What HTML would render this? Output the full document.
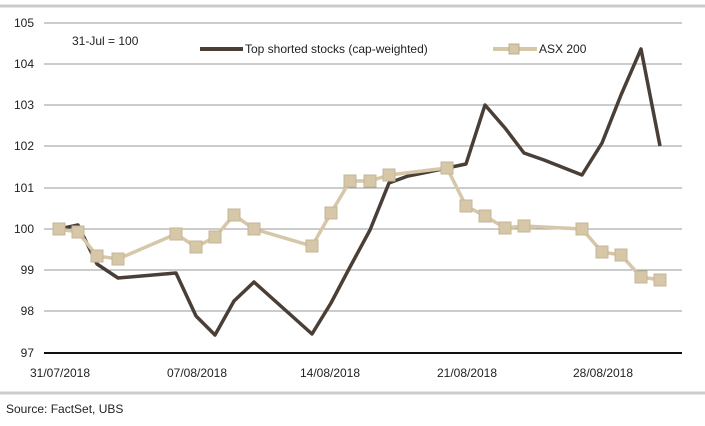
<!DOCTYPE html>
<html><head><style>
body{margin:0;width:705px;height:421px;background:#fff;overflow:hidden}
text{font-family:"Liberation Sans",sans-serif;fill:#222}
</style></head><body>
<svg width="705" height="421" xmlns="http://www.w3.org/2000/svg">
<line x1="0" y1="6" x2="705" y2="6" stroke="#ccc" stroke-width="3"/>
<line x1="0" y1="393" x2="705" y2="393" stroke="#ccc" stroke-width="3"/>
<g stroke="#999" stroke-width="1">
<line x1="44" y1="23" x2="682" y2="23"/><line x1="44" y1="64" x2="682" y2="64"/>
<line x1="44" y1="105" x2="682" y2="105"/><line x1="44" y1="146" x2="682" y2="146"/>
<line x1="44" y1="188" x2="682" y2="188"/><line x1="44" y1="229" x2="682" y2="229"/>
<line x1="44" y1="270" x2="682" y2="270"/><line x1="44" y1="311" x2="682" y2="311"/>
</g>
<line x1="44" y1="353" x2="682" y2="353" stroke="#111" stroke-width="2"/>
<g font-size="12" text-anchor="end">
<text x="34" y="27">105</text><text x="34" y="68">104</text><text x="34" y="109">103</text>
<text x="34" y="150">102</text><text x="34" y="192">101</text><text x="34" y="233">100</text>
<text x="34" y="274">99</text><text x="34" y="315">98</text><text x="34" y="357">97</text>
</g>
<g font-size="12" text-anchor="middle">
<text x="60" y="377">31/07/2018</text><text x="197" y="377">07/08/2018</text>
<text x="330" y="377">14/08/2018</text><text x="467" y="377">21/08/2018</text>
<text x="603" y="377">28/08/2018</text>
</g>
<text x="6" y="413" font-size="12">Source: FactSet, UBS</text>
<text x="72" y="45" font-size="12">31-Jul = 100</text>
<line x1="200" y1="49" x2="243" y2="49" stroke="#4a3f37" stroke-width="4"/>
<text x="245" y="53" font-size="12">Top shorted stocks (cap-weighted)</text>
<line x1="493" y1="49" x2="537" y2="49" stroke="#d6c7a8" stroke-width="4"/>
<rect x="509" y="44" width="10" height="10" fill="#d6c7a8" stroke="#bcae91"/>
<text x="539" y="53" font-size="12">ASX 200</text>
<polyline fill="none" stroke="#4a3f37" stroke-width="3.5" stroke-linejoin="round" points="59,229 78,225 97,264 118,278 176,273 196,316 215,335 234,301 254,282 312,334 331,303 350,267 370,230 389,183 408,176 428,172 447,168 466,164 485,105 505,128 524,153 544,160 582,175 602,143 621,95 641,49 660,146"/>
<polyline fill="none" stroke="#d6c7a8" stroke-width="3.5" points="59,229 78,232 97,256 118,259 176,234 196,247 215,237 234,215 254,229 312,246 331,213 350,181 370,181 389,175 447,168 466,206 485,216 505,228 524,226 582,229 602,252 621,255 641,277 660,280"/>
<g fill="#d6c7a8" stroke="#c4b595">
<rect x="53" y="223" width="12" height="12"/><rect x="72" y="226" width="12" height="12"/><rect x="91" y="250" width="12" height="12"/><rect x="112" y="253" width="12" height="12"/><rect x="170" y="228" width="12" height="12"/><rect x="190" y="241" width="12" height="12"/><rect x="209" y="231" width="12" height="12"/><rect x="228" y="209" width="12" height="12"/><rect x="248" y="223" width="12" height="12"/><rect x="306" y="240" width="12" height="12"/><rect x="325" y="207" width="12" height="12"/><rect x="344" y="175" width="12" height="12"/><rect x="364" y="175" width="12" height="12"/><rect x="383" y="169" width="12" height="12"/><rect x="441" y="162" width="12" height="12"/><rect x="460" y="200" width="12" height="12"/><rect x="479" y="210" width="12" height="12"/><rect x="499" y="222" width="12" height="12"/><rect x="518" y="220" width="12" height="12"/><rect x="576" y="223" width="12" height="12"/><rect x="596" y="246" width="12" height="12"/><rect x="615" y="249" width="12" height="12"/><rect x="635" y="271" width="12" height="12"/><rect x="654" y="274" width="12" height="12"/>
</g>
</svg>
</body></html>
